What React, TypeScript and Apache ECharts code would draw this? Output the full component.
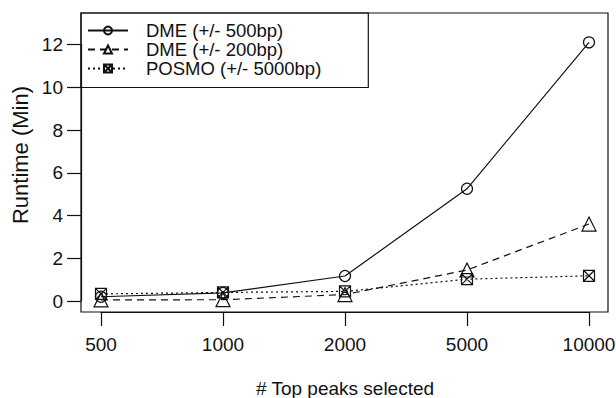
import React, { useEffect, useRef } from "react";
import * as echarts from "echarts";

const categories = ["500", "1000", "2000", "5000", "10000"];
const dme500 = [0.2, 0.38, 1.17, 5.25, 12.1];
const dme200 = [0.05, 0.06, 0.3, 1.45, 3.6];
const posmo = [0.33, 0.4, 0.45, 1.02, 1.18];
const seriesNames = ["DME (+/- 500bp)", "DME (+/- 200bp)", "POSMO (+/- 5000bp)"];
const yTicks = { min: 0, max: 12, interval: 2 };

const FONT = "'Liberation Sans', Arial, Helvetica, sans-serif";
const INK = "#111111";
const SQX = "path://M0 0H10V10H0Z M0 0L10 10 M10 0L0 10";

export default function App() {
  const ref = useRef<HTMLDivElement>(null);
  useEffect(() => {
    if (!ref.current) return;
    const chart = echarts.init(ref.current, undefined, { renderer: "svg" });
    const mk = (name: string, data: number[], type: any, symbol: string, size: number) => ({
      name,
      type: "line",
      data,
      symbol,
      symbolSize: size,
      symbolKeepAspect: true,
      clip: false,
      lineStyle: { color: INK, width: 1.2, type },
      itemStyle: { color: "rgba(0,0,0,0)", borderColor: INK, borderWidth: 1.2 },
      emphasis: { disabled: true },
    });
    chart.setOption({
      animation: false,
      textStyle: { fontFamily: FONT },
      grid: { left: 101, right: 27, top: 44.5, bottom: 97, containLabel: false, outerBoundsMode: "none" },
      xAxis: {
        type: "category",
        data: categories,
        boundaryGap: false,
        offset: 11,
        axisLine: { onZero: false, lineStyle: { color: INK, width: 1.2 } },
        axisTick: { length: 14, lineStyle: { color: INK, width: 1.2 } },
        axisLabel: { color: INK, fontSize: 19, margin: 23, fontFamily: FONT },
        splitLine: { show: false },
        name: "# Top peaks selected",
        nameLocation: "middle",
        nameGap: 67,
        nameTextStyle: { color: INK, fontSize: 19, fontFamily: FONT },
      },
      yAxis: {
        type: "value",
        min: yTicks.min,
        max: yTicks.max,
        interval: yTicks.interval,
        offset: 20,
        axisLine: { show: true, lineStyle: { color: INK, width: 1.2 } },
        axisTick: { show: true, length: 14, lineStyle: { color: INK, width: 1.2 } },
        axisLabel: { color: INK, fontSize: 19, margin: 18, fontFamily: FONT },
        splitLine: { show: false },
      },
      legend: {
        orient: "vertical",
        left: 81,
        top: 13,
        data: seriesNames,
        padding: [8, 47, 9.5, 6],
        borderColor: INK,
        borderWidth: 1.2,
        borderRadius: 0,
        itemWidth: 40,
        itemHeight: 10,
        itemGap: 0,
        selectedMode: false,
        textStyle: { color: INK, fontSize: 18.5, padding: [0, 0, 0, 13], fontFamily: FONT },
      },
      graphic: [
        {
          type: "rect",
          shape: { x: 81, y: 13, width: 527, height: 299 },
          style: { fill: "none", stroke: INK, lineWidth: 1.2 },
          silent: true,
        },
        {
          type: "text",
          x: 20,
          y: 155,
          rotation: Math.PI / 2,
          style: { text: "Runtime (Min)", fill: INK, fontSize: 22, fontFamily: FONT, align: "center", verticalAlign: "middle" },
          silent: true,
        },
      ],
      series: [
        mk(seriesNames[0], dme500, "solid", "circle", 11),
        mk(seriesNames[1], dme200, [7, 5], "triangle", 14),
        mk(seriesNames[2], posmo, [2, 3], SQX, 11),
      ],
    });
    return () => chart.dispose();
  }, []);
  return <div ref={ref} style={{ width: 616, height: 398, position: "absolute", left: 0, top: 0 }} />;
}
